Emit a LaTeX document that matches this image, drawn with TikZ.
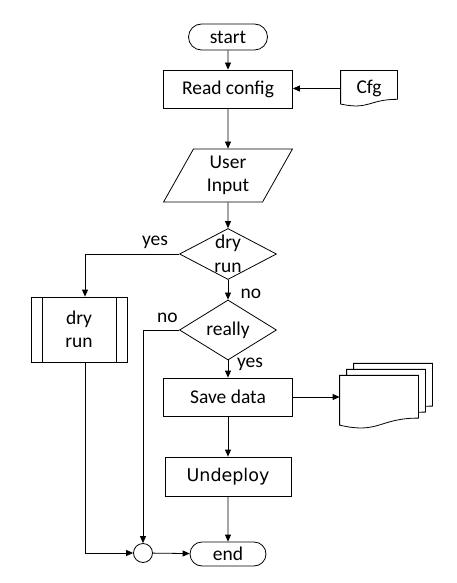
\documentclass[tikz,border=0pt]{standalone}
\usepackage{fontspec}
\setmainfont{Carlito}
\newfontfamily\undeployfont{DejaVu Sans}
\usetikzlibrary{shapes.geometric,shapes.misc,arrows.meta,calc}
\newcommand{\docoutline}[2]
{   \draw[#2] (#1.north west) -- (#1.north east) -- ($(#1.north east)!0.802!(#1.south east)$)
      .. controls ($(#1.north)!0.802!(#1.south)$) and ($(#1.north)!1.107!(#1.south)$) .. ($(#1.north west)!0.934!(#1.south west)$) -- cycle;
}
\tikzset{
  terminal/.style={rounded rectangle, draw, inner sep=0pt},
  process/.style={rectangle, draw, minimum width=129pt, minimum height=38pt, inner sep=0pt},
  decision/.style={diamond, draw, minimum width=97pt, minimum height=51pt, inner sep=0pt},
  inout/.style={trapezium, trapezium left angle=65, trapezium right angle=115, trapezium stretches=true,
    draw, minimum width=129pt, minimum height=53pt, inner sep=0pt, align=center},
  docbox/.style={rectangle, inner sep=0pt},
  joinpt/.style={circle, draw, minimum size=19pt, inner sep=0pt},
  lbl/.style={inner sep=0pt, anchor=base}
}
\begin{document}
\begin{tikzpicture}[x=1pt,y=-1pt,font=\fontsize{19.5}{23.5}\selectfont,line width=0.8pt,
  >={Triangle[length=7pt,width=6pt]}]
\useasboundingbox[fill=white] (0,0) rectangle (456,583);

 \node[terminal, minimum width=79pt, minimum height=26pt] (start) at (228,37) {start};
 \node[process] (read) at (228,89) {Read config};
 \node[docbox, minimum width=56pt, minimum height=35pt] (cfg) at (369,88.5) {Cfg};
 \node[inout] (user) at (228,175.5) {User\\Input};
 \node[decision, label={[align=center]center:dry\\run}] (dry) at (228,254) {};
 \node[decision] (really) at (228,330) {really};
 \node[rectangle, draw, minimum width=96pt, minimum height=65pt, align=center] (dryproc) at (79,329.5) {dry\\run};
 \node[process] (save) at (228,397) {Save data};
 \node[docbox, minimum width=78pt, minimum height=52.5pt] (store) at (379,402) {};
 \node[docbox, minimum width=78pt, minimum height=52.5pt] (storeb) at ($(store)+(7,-6)$) {};
 \node[docbox, minimum width=78pt, minimum height=52.5pt] (storec) at ($(store)+(14,-12)$) {};
 \node[process, minimum width=126pt, minimum height=39pt, font=\undeployfont\fontsize{17.5}{21}\selectfont] (undeploy) at (228,476.5) {Undeploy};
 \node[joinpt] (join) at (143,553) {};
 \node[terminal, minimum width=76pt, minimum height=24pt] (end) at (228,554) {end};

 \node[lbl] (yesdry) at (155,245) {yes};
 \node[lbl] (nodry) at (251,298) {no};
 \node[lbl] (noreally) at (167.5,322) {no};
 \node[lbl] (yesreally) at (250,367) {yes};

   \docoutline{cfg}{}
   \docoutline{storec}{fill=white}
   \docoutline{storeb}{fill=white}
   \docoutline{store}{fill=white}
   \draw ([xshift=12pt]dryproc.north west) -- ([xshift=12pt]dryproc.south west);
   \draw ([xshift=-11pt]dryproc.north east) -- ([xshift=-11pt]dryproc.south east);

   \draw[->] (start) -- (read);
   \draw[->] (cfg.west) -- (cfg.west -| read.east);
   \draw[->] (read) -- (user);
   \draw[->] (user) -- (dry);
   \draw[->] (dry) -- (really);
   \draw[->] (dry.west) -| ([xshift=6pt]dryproc.north);
   \draw[->] (really.west) -| (join.north);
   \draw[->] (really) -- (save);
   \draw[->] (save.east) -- (save.east -| store.west);
   \draw[->] (save) -- (undeploy);
   \draw[->] (undeploy) -- (end);
   \draw[->] ([xshift=6pt]dryproc.south) |- (join.west);
   \draw[->] (join) -- (end);

\end{tikzpicture}
\end{document}
